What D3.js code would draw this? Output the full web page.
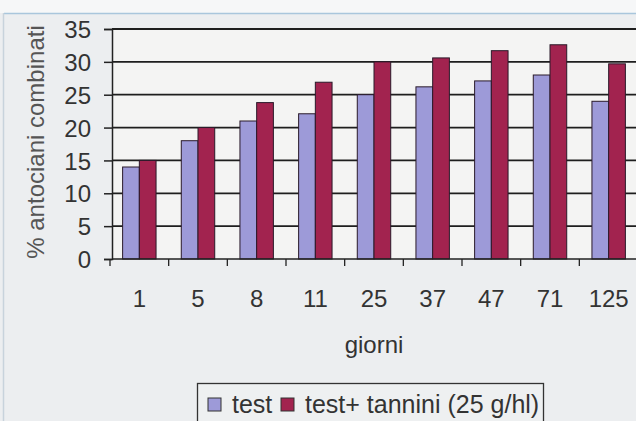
<!DOCTYPE html>
<html>
<head>
<meta charset="utf-8">
<script src="https://cdn.jsdelivr.net/npm/d3@7"></script>
<style>
  body { margin: 0; background: #eceef0; }
  svg { display: block; font-family: "Liberation Sans", Arial, sans-serif; }
</style>
</head>
<body>
<svg id="chart" width="636" height="421"></svg>
<script>
// data
var giorni = ["1", "5", "8", "11", "25", "37", "47", "71", "125"];
var test = [14, 18, 21, 22.1, 25, 26.2, 27.1, 28, 24];
var testTannini = [15, 20, 23.8, 26.9, 30, 30.6, 31.7, 32.6, 29.7];
var seriesNames = ["test", "test+ tannini (25 g/hl)"];
var yTicks = [0, 5, 10, 15, 20, 25, 30, 35];

var colors = ["#9d9ad8", "#a2234f"];

var svg = d3.select("#chart");

// scan frame
svg.append("rect").attr("x", 0).attr("y", 0).attr("width", 636).attr("height", 13).attr("fill", "#f6f7f8");
svg.append("line").attr("x1", 4).attr("x2", 636).attr("y1", 13.5).attr("y2", 13.5)
  .attr("stroke", "#a9c6dc").attr("stroke-width", 1.5);
svg.append("line").attr("x1", 3.5).attr("x2", 3.5).attr("y1", 13).attr("y2", 421)
  .attr("stroke", "#c8d3dc").attr("stroke-width", 1.5);

var plotLeft = 112, plotRight = 638, plotTop = 29, plotBottom = 259;

var x = d3.scaleBand().domain(giorni).range([plotLeft - 2, plotRight]).paddingInner(0.43).paddingOuter(0.215);
var xs = d3.scaleBand().domain([0, 1]).range([0, x.bandwidth()]);
var y = d3.scaleLinear().domain([0, 35]).range([plotBottom, plotTop]);

// plot area
svg.append("rect").attr("x", plotLeft).attr("y", plotTop)
  .attr("width", plotRight - plotLeft).attr("height", plotBottom - plotTop)
  .attr("fill", "#f4f4f3");

// gridlines
svg.append("g").selectAll("line").data(yTicks.slice(1)).enter().append("line")
  .attr("x1", plotLeft).attr("x2", plotRight)
  .attr("y1", function(d) { return y(d); }).attr("y2", function(d) { return y(d); })
  .attr("stroke", "#1e1e1e").attr("stroke-width", 1.8);

// bars
var rows = giorni.map(function(g, i) { return { g: g, v: [test[i], testTannini[i]] }; });
var groups = svg.append("g").selectAll("g").data(rows).enter().append("g")
  .attr("transform", function(d) { return "translate(" + x(d.g) + ",0)"; });
groups.selectAll("rect").data(function(d) { return d.v; }).enter().append("rect")
  .attr("x", function(d, i) { return xs(i); })
  .attr("y", function(d) { return y(d); })
  .attr("width", xs.bandwidth())
  .attr("height", function(d) { return y(0) - y(d); })
  .attr("fill", function(d, i) { return colors[i]; })
  .attr("stroke", "#2a1a2a").attr("stroke-width", 1);

// y axis
var yAxis = svg.append("g").attr("transform", "translate(" + plotLeft + ",0)")
  .call(d3.axisLeft(y).tickValues(yTicks).tickSize(8).tickPadding(13));
yAxis.select(".domain").attr("stroke", "#222").attr("stroke-width", 1.5);
yAxis.selectAll(".tick line").attr("stroke", "#222").attr("stroke-width", 1.5);
yAxis.selectAll("text").attr("font-size", 24).attr("fill", "#333")
  .attr("font-family", "Liberation Sans, Arial").attr("dy", "0.36em");

// x axis
var xAxis = svg.append("g").attr("transform", "translate(0," + plotBottom + ")")
  .call(d3.axisBottom(x).tickSize(0).tickPadding(31));
xAxis.select(".domain").remove();
xAxis.selectAll("text").attr("font-size", 24).attr("fill", "#333").attr("font-family", "Liberation Sans, Arial");
svg.append("line").attr("x1", plotLeft).attr("x2", plotRight).attr("y1", plotBottom).attr("y2", plotBottom)
  .attr("stroke", "#222").attr("stroke-width", 1.6);
var step = x.step();
svg.append("g").selectAll("line").data(giorni).enter().append("line")
  .attr("x1", function(d) { return x(d) - step * x.paddingInner() / 2; })
  .attr("x2", function(d) { return x(d) - step * x.paddingInner() / 2; })
  .attr("y1", plotBottom).attr("y2", plotBottom + 7)
  .attr("stroke", "#222").attr("stroke-width", 1.3);

// axis titles
svg.append("text").attr("transform", "translate(44,142) rotate(-90)")
  .attr("text-anchor", "middle").attr("font-size", 24).attr("fill", "#555")
  .text("% antociani combinati");
svg.append("text").attr("x", 374).attr("y", 353).attr("text-anchor", "middle")
  .attr("font-size", 24).attr("fill", "#333").text("giorni");

// legend
var lg = svg.append("g");
lg.append("rect").attr("x", 197.5).attr("y", 383.5).attr("width", 346).attr("height", 50)
  .attr("fill", "#eef0f1").attr("stroke", "#333").attr("stroke-width", 1.3);
var items = [{ x: 208, tx: 232 }, { x: 281, tx: 305 }];
seriesNames.forEach(function(name, i) {
  lg.append("rect").attr("x", items[i].x).attr("y", 398).attr("width", 13).attr("height", 13)
    .attr("fill", colors[i]).attr("stroke", "#333").attr("stroke-width", 1);
  lg.append("text").attr("x", items[i].tx).attr("y", 413).attr("font-size", 25).attr("fill", "#333").text(name);
});
</script>
</body>
</html>
